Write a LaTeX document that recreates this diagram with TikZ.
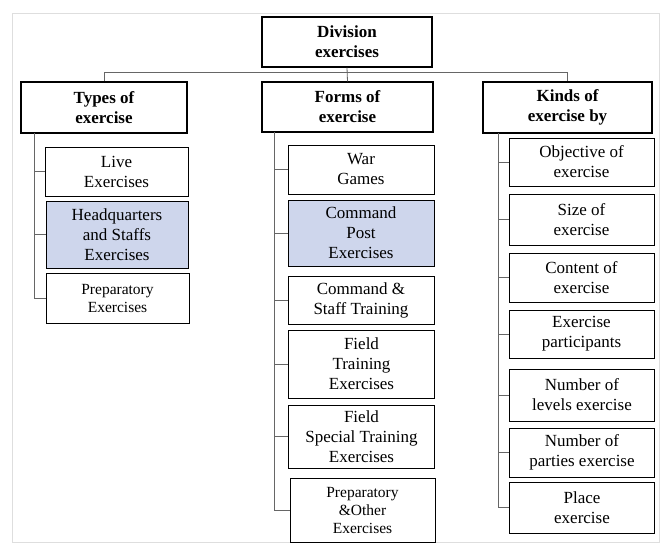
\documentclass[tikz,border=0pt]{standalone}
\usepackage{fontspec}
\setmainfont{Liberation Serif}
\definecolor{hqblue}{RGB}{206,214,236}
\definecolor{framegray}{RGB}{222,222,222}
\begin{document}
\begin{tikzpicture}[x=1pt,y=-1pt,
  headbox/.style={draw,line width=1.1pt,align=center,inner sep=0pt,
    font=\bfseries\fontsize{17}{20}\selectfont},
  subbox/.style={draw,line width=1pt,align=center,inner sep=0pt,
    font=\fontsize{17}{20}\selectfont},
  smalltext/.style={font=\fontsize{15.5}{18}\selectfont},
  shaded/.style={fill=hqblue},
  link/.style={draw=black!60,line width=0.8pt}]
  \useasboundingbox (0,0) rectangle (672,546);
  \draw [framegray,line width=1pt] (12,13) rectangle (659,542);
  \node [headbox,minimum width=170pt,minimum height=50pt] (div) at (347,42) {Division\\exercises};
  \node [headbox,minimum width=166pt,minimum height=51pt] (types) at (104,107.5) {Types of\\exercise};
  \node [headbox,minimum width=171pt,minimum height=50pt] (forms) at (347.5,107) {Forms of\\exercise};
  \node [headbox,minimum width=169pt,minimum height=51pt] (kinds) at (567.5,107.5) {Kinds of\\exercise by};
  \coordinate (bar) at (0,72);
  \draw [link] (types.north) -- (types.north |- bar) -- (kinds.north |- bar) -- (kinds.north);
  \draw [link] (div.south) -- (forms.north);
  \node [subbox,minimum width=143pt,minimum height=49pt] (live) at (116.5,171.5) {Live\\Exercises};
  \node [subbox,shaded,minimum width=142pt,minimum height=67pt] (hq) at (117,234.5) {Headquarters\\and Staffs\\Exercises};
  \node [subbox,smalltext,minimum width=143pt,minimum height=50pt] (prep) at (117.5,298) {Preparatory\\Exercises};
  \coordinate (tspine) at (34,133);
  \foreach \c in {live,hq,prep}
    \draw [link] (tspine) |- (\c.west);
  \node [subbox,minimum width=146pt,minimum height=49pt] (war) at (361,169.5) {War\\Games};
  \node [subbox,shaded,minimum width=146pt,minimum height=66pt] (cpe) at (361,233) {Command\\Post\\Exercises};
  \node [subbox,minimum width=146pt,minimum height=48pt] (cst) at (361,300) {Command \&\\Staff Training};
  \node [subbox,minimum width=146pt,minimum height=68pt] (ftx) at (361.5,364) {Field\\Training\\Exercises};
  \node [subbox,minimum width=146pt,minimum height=63pt] (fstx) at (361.5,436.5) {Field\\Special Training\\Exercises};
  \node [subbox,smalltext,minimum width=145pt,minimum height=64pt] (prepo) at (362.5,510) {Preparatory\\\&Other\\Exercises};
  \coordinate (fspine) at (274,132);
  \foreach \c in {war,cpe,cst,ftx,fstx,prepo}
    \draw [link] (fspine) |- (\c.west);
  \node [subbox,minimum width=145pt,minimum height=48pt] (obj) at (581.5,162) {Objective of\\exercise};
  \node [subbox,minimum width=145pt,minimum height=51pt] (size) at (581.5,219.5) {Size of\\exercise};
  \node [subbox,minimum width=145pt,minimum height=49pt] (cont) at (581.5,277.5) {Content of\\exercise};
  \node [subbox,minimum width=145pt,minimum height=48pt] (part) at (581.5,334) {Exercise\\participants};
  \node [subbox,minimum width=145pt,minimum height=52pt] (nlev) at (582,395) {Number of\\levels exercise};
  \node [subbox,minimum width=145pt,minimum height=49pt] (npar) at (582,452.5) {Number of\\parties exercise};
  \node [subbox,minimum width=145pt,minimum height=51pt] (place) at (582,507.5) {Place\\exercise};
  \coordinate (kspine) at (498,133);
  \foreach \c in {obj,size,cont,part,nlev,npar,place}
    \draw [link] (kspine) |- (\c.west);
\end{tikzpicture}
\end{document}
